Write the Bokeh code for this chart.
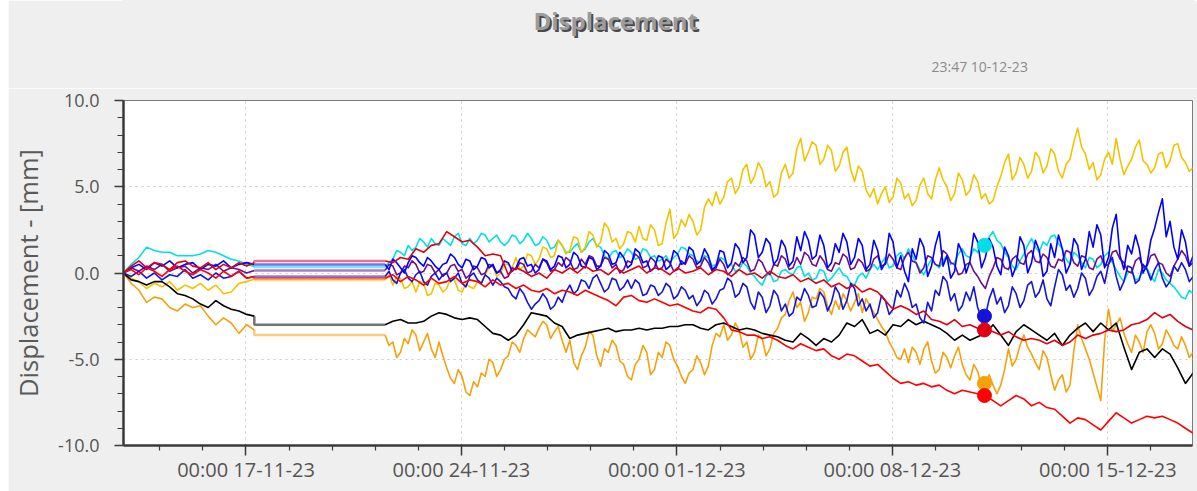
import pandas as pd
from bokeh.plotting import figure
from bokeh.layouts import column
from bokeh.models import FixedTicker, DatetimeTickFormatter, NumeralTickFormatter
from bokeh.core.properties import value
from bokeh.embed import file_html
from bokeh.resources import INLINE

# readings before the logger went offline (17-11) and after it came back (21-11)
pre_times = pd.date_range("2023-11-13 00:30", periods=18, freq="6h")
post_times_6h = pd.date_range("2023-11-21 12:30", periods=106, freq="6h")
post_times_3h = pd.date_range("2023-11-21 12:30", periods=211, freq="3h")
cursor_time = pd.Timestamp("2023-12-10 23:47")

y_ticks = [-10, -5, 0, 5, 10]
x_tick_dates = ["2023-11-17", "2023-11-24", "2023-12-01", "2023-12-08", "2023-12-15"]

# displacement per sensor, mm
cyan_pre = [0.0, 0.5, 0.9, 1.5, 1.3, 1.2, 1.2, 1.0, 1.0, 1.0, 1.1, 1.3, 1.2, 1.0, 0.8, 0.7, 0.5, 0.4]
cyan_post = [
    0.35, 0.6, 0.8, 1.3, 1.2, 1.0, 1.6, 1.3,
    1.5, 2.0, 1.8, 1.5, 2.0, 1.7, 1.6, 2.0,
    1.8, 1.6, 2.1, 2.3, 1.7, 1.6, 2.0, 1.7,
    1.9, 2.3, 2.2, 1.8, 2.0, 2.2, 1.8, 1.6,
    1.8, 2.2, 2.1, 1.7, 1.9, 2.3, 2.0, 1.6,
    1.7, 2.1, 1.9, 1.4, 1.5, 1.9, 1.6, 1.2,
    1.2, 1.5, 1.7, 1.2, 1.4, 1.8, 2.0, 1.6,
    1.5, 1.0, 0.8, 1.2, 1.3, 0.9, 1.0, 1.4,
    1.2, 0.8, 0.9, 1.4, 1.3, 0.9, 1.0, 0.7,
    0.8, 1.0, 0.6, 0.9, 1.1, 1.5, 1.4, 1.1,
    1.0, 0.7, 0.6, 1.0, 0.9, 0.4, 0.5, 0.9,
    0.8, 0.4, 0.5, 0.1, 0.2, 0.6, 0.4, 0.0,
    -0.2, -0.5, -0.7, -0.2, 0.0, -0.5, -0.4, 0.1,
    0.2, 0.0, -0.1, 0.3, 0.4, -0.2, 0.0, -0.4,
    -0.3, 0.2, 0.1, -0.5, -0.3, 0.0, 0.3, -0.1,
    -0.2, -0.6, -0.7, -0.2, 0.0, -0.3, 0.2, 0.5,
    0.2, 0.6, 0.9, 0.3, 0.4, 1.0, 1.2, 0.8,
    1.4, 1.0, 0.6, 0.2, -0.1, 0.4, 0.8, 0.5,
    0.3, 0.7, 1.0, 0.5, 0.6, 1.1, 1.4, 1.0,
    0.9, 1.4, 1.2, 1.8, 1.6, 2.1, 2.4, 1.9,
    1.7, 1.2, 0.9, 0.4, 0.2, 0.7, 1.1, 1.6,
    2.0, 1.5, 1.2, 1.8, 1.6, 2.1, 2.2, 1.7,
    1.4, 0.8, 0.5, 1.2, 1.0, 0.6, 0.3, 0.9,
    0.8, 0.3, 0.5, 1.0, 1.2, 0.6, 0.2, -0.2,
    -0.5, 0.0, 0.1, -0.4, -0.3, 0.1, 0.3, -0.2,
    -0.5, 0.2, 0.0, -0.4, -0.6, -0.8, -1.1, -1.4,
    -1.5, -1.0, -1.2,
]

gold_pre = [0.0, -0.3, -0.5, -0.9, -0.6, -0.8, -0.5, -1.0, -0.7, -0.9, -0.6, -1.0, -0.7, -1.2, -1.1, -0.6, -0.5, -0.35]
gold_post = [
    -0.4, -0.1, -0.7, -0.2, -0.3, -0.9, -0.8, -0.5,
    -1.1, -0.5, -0.6, -1.3, -1.2, -0.6, -0.7, -1.1,
    -0.9, -0.3, -0.4, -1.0, -1.1, -0.6, -0.8, -0.9,
    -0.5, -0.6, -0.1, 0.3, 0.4, -0.2, 0.0, 0.5,
    0.5, 0.3, 0.9, 0.2, 0.4, 1.1, 1.0, 0.5,
    0.8, 1.5, 1.4, 0.9, 1.0, 1.9, 1.6, 1.1,
    1.3, 2.1, 2.0, 1.2, 1.5, 2.4, 2.2, 1.5,
    1.8, 2.9, 2.6, 1.8, 2.0, 1.4, 1.7, 2.4,
    2.3, 1.8, 2.7, 2.0, 1.9, 2.8, 2.5, 1.6,
    1.7, 2.9, 3.7, 2.0, 2.3, 3.1, 2.7, 3.4,
    3.0, 2.2, 2.5, 3.8, 4.3, 3.9, 4.7, 4.0,
    4.4, 5.3, 5.5, 4.6, 5.0, 6.0, 6.3, 5.2,
    5.6, 6.4, 6.0, 5.0, 5.3, 4.4, 4.6, 5.8,
    6.3, 5.5, 5.8, 7.2, 7.8, 6.5, 7.0, 7.6,
    7.4, 6.3, 6.6, 7.4, 7.1, 5.9, 6.2, 7.0,
    7.3, 6.0, 5.3, 6.2, 5.9, 4.8, 4.4, 4.9,
    4.0, 4.6, 5.0, 4.1, 4.4, 5.5, 5.2, 4.3,
    4.6, 3.9, 4.2, 5.1, 5.5, 4.6, 4.3, 5.4,
    6.1, 5.4, 5.0, 4.2, 4.6, 5.8, 5.4, 4.5,
    4.8, 5.7, 5.3, 4.3, 4.6, 4.0, 4.2, 5.0,
    5.6, 6.4, 6.9, 5.4, 5.8, 6.7, 6.3, 5.5,
    5.9, 7.0, 6.7, 5.8, 6.2, 7.2, 6.9, 5.9,
    5.5, 6.3, 6.6, 7.6, 8.4, 7.3, 6.9, 6.0,
    6.4, 5.4, 5.7, 6.6, 7.0, 6.3, 7.8, 6.6,
    5.7, 6.2, 6.6, 7.3, 7.7, 6.5, 6.3, 5.8,
    6.1, 6.9, 7.0, 6.1, 6.5, 7.4, 7.5, 6.7,
    6.4, 5.9, 6.1,
]

orange_pre = [0.0, -0.6, -1.0, -1.7, -1.4, -1.5, -2.0, -2.2, -1.8, -2.0, -1.9, -2.5, -3.0, -2.6, -2.9, -3.5, -3.0, -3.3]
orange_post = [
    -3.6, -4.2, -4.0, -4.9, -4.6, -3.8, -4.1, -3.3,
    -3.6, -4.5, -4.0, -3.5, -4.4, -4.9, -4.0, -4.8,
    -5.5, -6.1, -6.4, -5.6, -6.0, -6.9, -7.1, -6.3,
    -6.6, -5.8, -6.0, -5.0, -5.2, -6.0, -5.6, -5.0,
    -4.8, -4.0, -4.2, -4.6, -3.8, -3.3, -3.5, -3.7,
    -3.2, -2.8, -3.0, -3.8, -3.4, -3.1, -3.9, -4.6,
    -3.9, -5.2, -5.6, -4.8, -4.3, -3.4, -3.6, -4.8,
    -5.4, -4.4, -4.6, -3.9, -4.2, -5.1, -5.3, -6.0,
    -6.2, -5.3, -5.0, -4.2, -4.6, -5.9, -5.6, -4.6,
    -4.9, -4.0, -4.2, -5.0, -5.4, -6.0, -6.4, -5.8,
    -5.6, -4.8, -5.2, -5.9, -5.4, -4.2, -3.5, -3.7,
    -3.0, -3.9, -3.6, -2.9, -3.3, -4.3, -4.0, -5.0,
    -4.6, -3.6, -3.8, -4.8, -4.4, -3.5, -3.2, -2.6,
    -2.4, -1.6, -1.1, -2.0, -1.7, -2.8, -2.3, -1.4,
    -1.5, -0.9, -1.1, -1.9, -2.4, -1.6, -2.1, -1.2,
    -1.6, -2.2, -1.7, -1.2, -2.3, -1.5, -1.9, -2.3,
    -2.7, -3.1, -3.4, -4.0, -4.4, -4.9, -5.0, -4.4,
    -5.2, -4.3, -4.6, -5.3, -4.4, -4.0, -5.1, -5.8,
    -5.6, -4.6, -4.9, -5.5, -4.8, -4.3, -5.3, -5.9,
    -6.2, -5.3, -5.7, -6.6, -6.4, -5.9, -6.5, -7.0,
    -6.5, -5.6, -4.4, -5.4, -5.0, -4.2, -3.6, -4.3,
    -4.7, -5.2, -5.6, -4.5, -4.9, -5.9, -6.8, -6.2,
    -5.9, -6.9, -6.5, -4.5, -3.0, -3.8, -4.4, -5.0,
    -5.8, -6.6, -7.4, -3.9, -2.1, -3.4, -3.0, -2.6,
    -3.5, -4.1, -4.6, -3.6, -4.0, -4.6, -3.4, -3.0,
    -3.5, -4.4, -4.1, -3.3, -3.7, -4.2, -4.4, -3.7,
    -4.2, -4.9, -4.6,
]

black_pre = [0.0, -0.4, -0.5, -0.7, -0.5, -0.5, -0.8, -1.2, -1.3, -1.5, -1.8, -2.0, -1.6, -1.9, -2.1, -2.2, -2.4, -2.5]
black_post = [
    -3.0, -2.8, -2.7, -2.9, -2.9, -2.8, -2.5, -2.3, -2.4, -2.6, -2.7, -2.6, -2.7, -3.1, -3.5, -3.6,
    -3.9, -3.6, -3.0, -2.3, -2.4, -2.5, -2.9, -3.1, -3.8, -3.6, -3.5, -3.4, -3.3, -3.2, -3.4, -3.3,
    -3.3, -3.2, -3.3, -3.2, -3.2, -3.1, -3.1, -3.0, -3.0, -3.2, -3.3, -3.0, -2.9, -3.1, -3.3, -3.2,
    -3.3, -3.5, -3.6, -3.7, -3.9, -4.0, -3.5, -3.8, -4.2, -3.8, -4.0, -3.6, -2.9, -3.1, -2.7, -3.5,
    -3.3, -3.6, -3.0, -3.1, -2.7, -3.0, -2.8, -3.0, -3.2, -3.5, -3.9, -3.6, -3.9, -3.7, -3.5, -3.0,
    -3.6, -4.2, -3.4, -3.0, -3.3, -3.6, -3.9, -3.5, -4.2, -3.6, -3.2, -2.9, -3.4, -2.9, -3.3, -2.9,
    -4.3, -5.6, -4.6, -4.4, -4.9, -4.4, -4.7, -5.5, -6.4, -5.8,
]

purple_pre = [0.0, 0.3, 0.1, 0.4, 0.2, 0.5, 0.1, 0.3, 0.4, 0.0, 0.3, 0.2, 0.5, 0.1, 0.3, 0.2, 0.0, 0.15]
purple_post = [
    0.15, 0.5, 0.4, -0.1, 0.0, 0.4, 0.3, 0.7,
    0.5, 0.0, 0.1, 0.5, 0.4, 0.0, 0.2, -0.2,
    0.0, 0.4, 0.5, 0.1, 0.2, -0.3, -0.1, 0.4,
    0.3, -0.1, 0.0, 0.5, 0.4, 0.0, 0.1, -0.3,
    -0.2, 0.3, 0.2, 0.6, 0.5, 0.0, 0.1, 0.5,
    0.3, 0.8, 0.6, 0.1, 0.2, 0.6, 0.4, 0.9,
    0.7, 0.2, 0.3, 0.8, 0.5, 1.0, 0.9, 0.4,
    0.4, 0.9, 0.8, 0.3, 0.5, 0.0, 0.2, 0.7,
    0.6, 1.1, 0.9, 0.3, 0.4, 0.9, 0.7, 0.2,
    0.3, 0.8, 0.6, 0.1, 0.2, 0.7, 0.5, 1.0,
    0.8, 0.3, 0.4, 0.9, 0.6, 0.1, 0.3, 0.8,
    0.5, -0.1, 0.1, 0.6, 0.4, 0.9, 0.7, 0.1,
    0.2, 0.8, 0.6, 0.1, -0.1, 0.5, 0.4, 1.0,
    0.8, 0.2, 0.3, 0.9, 0.5, 1.2, 1.0, 0.5,
    0.4, 1.0, 0.7, 0.2, 0.1, 0.6, 0.5, 1.1,
    0.9, 0.2, 0.3, 0.8, 0.6, 0.1, 0.2, 0.8,
    1.0, 0.4, 0.5, 1.1, 0.8, 0.3, 0.2, 0.9,
    1.2, 0.7, 0.6, 0.0, 0.3, 1.0, 0.9, 0.5,
    0.4, 1.3, 1.1, 0.6, 0.5, -0.1, 0.0, 0.5,
    0.6, 0.1, -0.2, -0.6, -0.9, -0.2, 0.3, 0.9,
    0.8, 0.3, 0.2, 0.8, 1.0, 0.6, 0.5, 1.1,
    1.3, 0.7, 0.6, 1.1, 0.9, 0.4, 0.3, 0.8,
    0.7, 1.3, 1.2, 0.6, 0.4, 1.0, 0.9, 0.3,
    0.2, 0.8, 1.0, 0.4, 0.5, 1.2, 1.3, 0.8,
    0.6, 0.1, 0.0, 0.7, 0.9, 0.3, 0.4, 1.0,
    1.1, 0.6, 0.5, 0.0, -0.2, 0.4, 0.8, 1.3,
    1.0, 0.4, 0.6,
]

blue_a_pre = [0.0, 0.3, 0.5, 0.2, 0.6, 0.4, 0.7, 0.3, 0.5, 0.6, 0.2, 0.5, 0.4, 0.7, 0.3, 0.5, 0.6, 0.5]
blue_a_post = [
    0.5, 0.2, 0.8, 0.6, 0.3, 0.0, 0.6, 1.0,
    0.9, 0.6, 0.4, 0.9, 0.7, 0.4, 0.2, 0.5,
    0.6, 1.1, 0.9, 0.5, 0.3, 0.8, 0.7, 0.2,
    0.4, 0.9, 0.8, 0.3, 0.5, 0.0, 0.2, 0.7,
    0.6, 0.1, 0.3, 0.8, 0.9, 0.4, 0.5, 0.0,
    0.2, 0.8, 0.7, 0.2, 0.4, 1.0, 0.9, 0.3,
    0.5, 1.2, 1.0, 0.4, 0.3, 0.9, 0.8, 0.2,
    0.4, 1.3, 1.1, 0.5, 0.6, 1.2, 0.9, 0.3,
    0.5, 1.4, 1.2, 0.6, 0.7, 0.1, 0.3, 1.0,
    0.9, 0.2, 0.4, 1.3, 1.1, 0.5, 0.6, 1.5,
    1.3, 0.5, 0.7, 1.4, 1.0, 0.2, 0.4, 1.3,
    1.2, 0.3, 0.6, 1.7, 1.4, 0.6, 0.9, 2.5,
    2.2, 0.9, 1.2, 2.0, 1.7, 0.5, 0.8, 1.9,
    1.5, 0.4, 0.7, 2.1, 1.3, 2.4, 1.9, 0.8,
    1.0, 2.2, 1.6, 0.3, 0.6, 1.7, 1.2, 2.3,
    1.8, 0.5, 0.9, 2.0, 1.6, 0.2, 0.5, 1.9,
    1.3, 0.2, 0.6, 2.3, 1.8, 0.3, 1.0, 0.1,
    -0.5, 1.4, 0.8, 2.0, 1.5, -0.2, 0.4, 1.6,
    2.4, 0.4, 1.0, -0.3, 0.1, 1.7, 1.2, 0.0,
    0.7, 2.3, 1.8, 0.3, 0.9, 2.0, 1.5, 0.4,
    -0.1, 1.5, 1.0, -0.2, 0.4, 2.1, 1.6, 0.0,
    0.6, 1.9, 1.3, -0.2, 0.1, 1.7, 0.9, 2.2,
    1.4, 0.0, 0.5, 2.0, 1.6, 0.2, 0.8, 2.4,
    1.5, 2.8, 2.2, 0.3, 0.9, 2.6, 3.4, 1.0,
    0.2, 1.6, 1.1, 2.2, 1.4, 0.0, 0.5, 1.9,
    2.6, 3.5, 4.3, 2.1, 3.0, 1.5, 0.8, 2.5,
    1.8, 0.4, 1.0,
]

blue_b_pre = [0.0, -0.2, 0.1, -0.3, 0.0, -0.4, -0.1, -0.2, 0.2, -0.3, -0.1, -0.4, 0.0, -0.3, -0.2, 0.1, -0.3, -0.2]
blue_b_post = [
    -0.2, 0.1, -0.4, -0.6, 0.0, 0.2, -0.3, -0.5,
    -0.1, 0.1, -0.5, -0.7, -0.2, 0.0, -0.4, -0.1,
    0.0, -0.5, -0.3, 0.0, -0.6, -0.8, -0.2, 0.0,
    -0.4, -0.6, -0.1, -0.3, -0.7, -0.3, -0.5, -0.8,
    -0.9, -1.3, -1.5, -0.9, -1.2, -1.7, -2.1, -1.8,
    -1.6, -1.2, -1.5, -2.1, -1.9, -1.4, -1.7, -1.1,
    -0.7, -1.2, -1.0, -0.4, -0.5, -0.9, -0.3, -0.1,
    -0.6, -1.1, -0.9, -0.3, -0.4, -1.0, -0.8, -0.4,
    -0.9, -0.4, -0.6, -1.3, -1.2, -0.7, -0.8, -1.3,
    -1.1, -0.6, -0.8, -1.5, -1.3, -0.8, -1.0, -1.5,
    -1.3, -1.9, -1.6, -1.0, -1.2, -1.8, -1.5, -1.0,
    -0.9, -0.3, -0.5, -1.4, -1.2, -0.6, -0.8, -1.7,
    -2.1, -1.1, -1.4, -2.3, -1.9, -1.0, -1.3, -2.2,
    -1.8, -2.5, -2.3, -1.4, -1.6, -0.9, -1.3, -2.0,
    -1.9, -1.1, -1.4, -2.2, -1.7, -0.8, -1.2, -2.1,
    -1.6, -0.6, -0.9, -1.9, -1.5, -2.2, -1.8, -2.6,
    -2.3, -1.3, -1.6, -2.4, -2.1, -1.0, -1.4, -0.6,
    -1.1, -2.0, -1.8, -2.6, -2.9, -1.7, -2.2, -1.0,
    -1.3, -0.2, -0.5, -1.6, -1.2, -2.2, -1.9, -1.1,
    -1.6, -0.8, -2.0, -2.6, -2.5, -1.5, -0.9, -1.8,
    -1.4, -2.3, -1.9, -0.8, -1.2, -2.0, -1.6, -0.7,
    -0.5, -1.4, -1.1, -0.4, -1.5, -1.9, -0.8, 0.2,
    -0.1, -1.0, -0.7, -1.4, -0.9, 0.0, -0.3, -1.3,
    -0.9, -0.2, 0.1, -0.6, 0.5, 0.9, -0.2, -1.0,
    -0.5, 0.4, 0.3, -0.6, -0.4, 0.5, 0.2, -0.4,
    0.2, 0.6, -0.3, -0.8, -0.5, 0.4, 0.1, 0.6,
    0.2, -0.5, -0.2,
]

red_a_pre = [0.0, 0.4, 0.7, 0.3, 0.6, 0.5, 0.2, 0.6, 0.7, 0.4, 0.3, 0.6, 0.2, 0.5, 0.3, 0.6, 0.4, 0.6]
red_a_post = [
    0.7, 0.6, 0.9, 0.8, 1.4, 1.2, 1.6, 1.7, 2.4, 2.1, 1.8, 1.9, 1.5, 1.0, 1.1, 1.0,
    -0.1, 0.3, 0.1, -0.2, 0.0, -0.3, 0.2, 0.0, 0.3, 0.0, 0.4, 0.1, 0.2, -0.1, 0.3, 0.0,
    0.2, 0.4, 0.0, 0.3, 0.2, -0.1, 0.3, 0.0, 0.1, 0.3, -0.1, 0.2, 0.1, -0.2, 0.2, -0.1,
    0.0, -0.3, 0.1, -0.2, -0.3, -0.1, -0.5, -0.3, -0.6, -0.4, -0.8, -0.6, -0.9, -0.7, -1.1, -0.9,
    -1.1, -1.6, -2.1, -1.9, -2.1, -2.4, -2.2, -2.7, -2.8, -3.0, -2.7, -3.1, -3.0, -3.2, -3.3, -3.4,
    -3.6, -3.4, -3.7, -3.9, -3.8, -3.9, -4.1, -3.9, -4.2, -4.0, -3.6, -3.8, -3.6, -3.5, -3.3, -3.4,
    -3.3, -3.0, -2.9, -2.7, -2.3, -2.6, -2.4, -2.8, -3.1, -3.3,
]

red_b_pre = [0.0, 0.2, -0.1, 0.3, 0.1, -0.2, 0.2, 0.4, 0.1, -0.1, 0.2, 0.0, -0.3, 0.1, -0.2, 0.1, -0.3, -0.2]
red_b_post = [
    -0.3, -0.1, -0.5, -0.2, -0.4, -0.7, -0.3, -0.6, -0.5, -0.2, -0.6, -0.4, -0.5, -0.8, -0.4, -0.7,
    -0.6, -0.9, -0.7, -1.0, -1.1, -0.9, -1.2, -1.0, -1.1, -1.3, -1.0, -1.2, -1.4, -1.6, -1.9, -1.4,
    -1.3, -1.6, -1.7, -1.5, -1.7, -1.9, -1.8, -2.0, -2.2, -2.3, -2.0, -2.1, -2.6, -3.3, -3.4, -3.6,
    -3.6, -3.8, -3.7, -3.9, -4.2, -4.4, -4.1, -4.3, -4.5, -4.4, -4.8, -5.0, -4.7, -4.8, -5.1, -5.4,
    -5.3, -5.7, -6.1, -6.4, -6.3, -6.5, -6.4, -6.6, -6.5, -6.8, -7.0, -6.8, -6.9, -7.0, -7.1, -7.4,
    -7.7, -7.4, -7.1, -7.3, -7.7, -7.5, -7.8, -7.9, -8.3, -8.7, -8.4, -8.5, -8.8, -9.1, -8.6, -8.1,
    -8.4, -8.7, -8.5, -8.3, -8.4, -8.3, -8.5, -8.7, -9.0, -9.3,
]

# (colour, before gap, after gap, marked at cursor) in drawing order
sensors = [
    ("#00dfe6", cyan_pre, cyan_post, True),
    ("#f0c400", gold_pre, gold_post, False),
    ("#f3a20c", orange_pre, orange_post, True),
    ("#000000", black_pre, black_post, False),
    ("#6c0f8c", purple_pre, purple_post, False),
    ("#0000ff", blue_a_pre, blue_a_post, False),
    ("#1414d8", blue_b_pre, blue_b_post, True),
    ("#e00010", red_a_pre, red_a_post, True),
    ("#ff0000", red_b_pre, red_b_post, True),
]

FONT = "Open Sans"
PANEL = "#efefef"
AXIS_COLOR = "#3a3a3a"
LABEL_COLOR = "#555555"
LEFT, RIGHT = 109, 5
HEAD_H = 88

# heading strip above the chart; its frame lines up with the chart frame,
# x/y in this strip are pixel positions (y measured up from its bottom)
head = figure(width=1189, height=HEAD_H, margin=(0, 0, 0, 8),
              x_range=(LEFT, 1189 - RIGHT), y_range=(0, HEAD_H),
              output_backend="svg", toolbar_location=None,
              x_axis_location=None, y_axis_location=None,
              min_border_left=LEFT, min_border_right=RIGHT, min_border_top=0, min_border_bottom=0)
head.outline_line_color = PANEL
head.outline_line_width = 3
head.background_fill_color = PANEL
head.border_fill_color = PANEL
head.xgrid.visible = False
head.ygrid.visible = False
head.text([605], [HEAD_H - 21], text=["Displacement"], text_align="center", text_baseline="middle",
          text_font=value(FONT), text_font_size="24px", text_font_style="bold",
          text_color="#4a4a4a", x_offset=1, y_offset=1)
head.text([604], [HEAD_H - 20], text=["Displacement"], text_align="center", text_baseline="middle",
          text_font=value(FONT), text_font_size="24px", text_font_style="bold",
          text_color="#9c9c9c")
head.text([970], [HEAD_H - 66], text=["23:47 10-12-23"], text_align="center", text_baseline="middle",
          text_font=value(FONT), text_font_size="14px", text_color="#8a8a8a")

p = figure(
    width=1189, height=403, margin=(0, 0, 0, 8),
    x_axis_type="datetime",
    x_range=(pd.Timestamp("2023-11-13 00:30"), pd.Timestamp("2023-12-17 18:00")),
    y_range=(-10, 10),
    output_backend="svg", toolbar_location=None,
    min_border_left=LEFT, min_border_right=RIGHT, min_border_top=12, min_border_bottom=46,
)
p.border_fill_color = PANEL
p.background_fill_color = "#ffffff"
p.outline_line_color = "#7a7a7a"
p.outline_line_width = 1

# weekly major ticks, minor ticks every 1.4 days
major_ms = [pd.Timestamp(d).value // 10**6 for d in x_tick_dates]
step_ms = int(1.4 * 86400 * 1000)
minor_ms = [major_ms[0] + n * step_ms for n in range(-3, 24) if n % 5 != 0]
p.xaxis.ticker = FixedTicker(ticks=major_ms, minor_ticks=minor_ms)
fmt = "%H:%M %d-%m-%y"
p.xaxis.formatter = DatetimeTickFormatter(
    microseconds=fmt, milliseconds=fmt, seconds=fmt, minsec=fmt, minutes=fmt,
    hourmin=fmt, hours=fmt, days=fmt, months=fmt, years=fmt,
)
p.yaxis.ticker = FixedTicker(ticks=y_ticks, minor_ticks=[v for v in range(-9, 10) if v % 5 != 0])
p.yaxis.formatter = NumeralTickFormatter(format="0.0")

for ax in (p.xaxis[0], p.yaxis[0]):
    ax.axis_line_color = AXIS_COLOR
    ax.axis_line_width = 2.5
    ax.major_tick_line_color = AXIS_COLOR
    ax.major_tick_line_width = 1.5
    ax.minor_tick_line_color = AXIS_COLOR
    ax.minor_tick_line_width = 1.2
    ax.major_tick_in = 0
    ax.minor_tick_in = 0
    ax.major_label_text_font = FONT
    ax.major_label_text_color = LABEL_COLOR

p.xaxis.major_label_text_font_size = "20px"
p.yaxis.major_label_text_font_size = "18px"
p.xaxis.major_tick_out = 10
p.xaxis.minor_tick_out = 5
p.xaxis.major_label_standoff = 0
p.yaxis.major_tick_out = 9
p.yaxis.minor_tick_out = 6
p.yaxis.major_label_standoff = 15

p.yaxis.axis_label = "Displacement - [mm]"
p.yaxis.axis_label_text_font = FONT
p.yaxis.axis_label_text_font_size = "25.5px"
p.yaxis.axis_label_text_font_style = "normal"
p.yaxis.axis_label_text_color = "#5a5a5a"
p.yaxis.axis_label_standoff = 10

for g in (p.xgrid[0], p.ygrid[0]):
    g.grid_line_color = "#c9c9c9"
    g.grid_line_dash = "2 4"
    g.grid_line_width = 1

for color, pre, post, marked in sensors:
    post_times = post_times_3h if len(post) == len(post_times_3h) else post_times_6h
    p.line(list(pre_times), pre, line_color=color, line_width=1.6, line_join="round")
    p.line(list(post_times), post, line_color=color, line_width=1.6, line_join="round")
    # span while the logger was offline
    p.line([pre_times[-1], pre_times[-1], post_times[0]], [pre[-1], post[0], post[0]],
           line_color=color, line_width=2.5, line_alpha=0.55)

for color, pre, post, marked in sensors:
    if marked:
        post_times = post_times_3h if len(post) == len(post_times_3h) else post_times_6h
        i = int(abs(post_times - cursor_time).argmin())
        p.scatter([cursor_time], [post[i]], size=14, fill_color=color, line_color=color)

layout = column(head, p, spacing=0)
open("out.html", "w").write(file_html(layout, INLINE))
